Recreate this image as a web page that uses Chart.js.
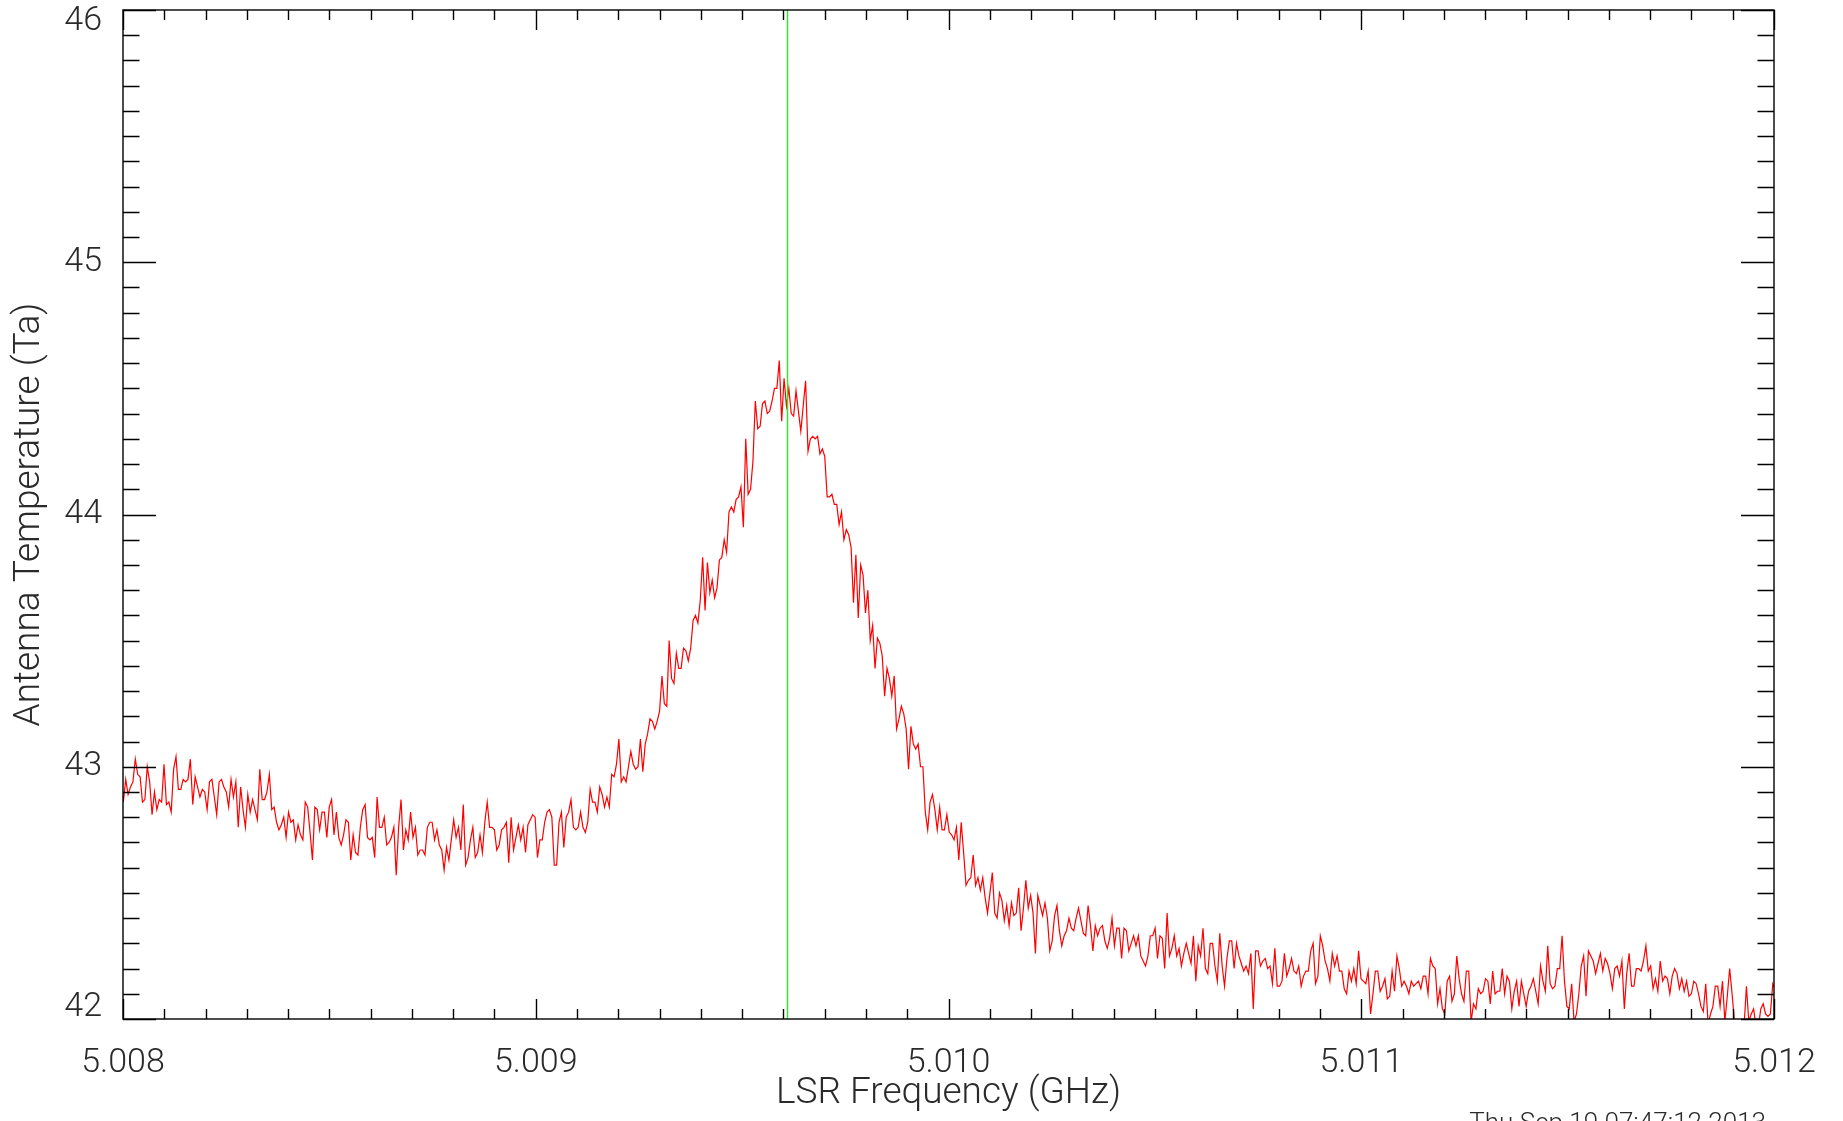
<!DOCTYPE html>
<html lang="en">
<head>
  <meta charset="UTF-8">
  <title>Antenna Temperature vs LSR Frequency</title>
  <script src="https://cdn.jsdelivr.net/npm/chart.js"></script>
  <style>
    html, body { margin: 0; padding: 0; background: #fff; }
    #wrap { width: 1843px; height: 1121px; position: relative; }
  </style>
</head>
<body>
  <div id="wrap"><canvas id="spec"></canvas></div>

  <script>
    // Spectrum channels: evenly spaced in frequency (GHz)
    var freqStart = 5.007995;
    var freqStep = 0.0000058;

    // Antenna temperature per channel (left baseline)
    var tempBaseline = [
      42.96,42.86,42.95,42.89,42.92,42.94,43.03,42.97,42.96,42.86,
      42.87,43.00,42.94,42.81,42.90,42.83,42.87,42.86,43.01,42.85,
      42.86,42.82,42.99,43.04,42.91,42.91,42.95,42.94,42.95,43.03,
      42.85,42.96,42.92,42.88,42.91,42.90,42.83,42.94,42.95,42.88,
      42.81,42.94,42.95,42.92,42.90,42.84,42.95,42.88,42.94,42.76,
      42.92,42.83,42.76,42.89,42.82,42.87,42.83,42.79,42.99,42.87,
      42.87,42.90,42.97,42.83,42.84,42.78,42.75,42.77,42.80,42.72,
      42.82,42.78,42.79,42.71,42.77,42.73,42.71,42.86,42.84,42.74,
      42.63,42.84,42.83,42.75,42.82,42.82,42.72,42.84,42.87,42.73,
      42.82,42.72,42.69,42.73,42.79,42.78,42.63,42.73,42.66,42.65,
      42.76,42.83,42.85,42.72,42.71,42.72,42.64,42.88,42.76,42.76,
      42.80,42.69,42.70,42.72,42.76,42.57,42.76,42.87,42.67,42.75,
      42.71,42.82,42.72,42.76,42.65,42.67,42.67,42.65,42.76,42.78,
      42.78,42.71,42.75,42.69,42.67,42.59,42.68,42.63,42.71,42.79,
      42.72,42.76,42.67,42.85,42.61,42.64,42.71,42.76,42.64,42.66,
      42.73,42.66,42.78,42.86,42.76,42.76,42.75,42.67,42.69,42.75,
      42.76,42.78,42.62,42.80,42.67,42.72,42.77,42.71,42.76,42.66,
      42.77,42.79,42.81,42.80,42.64,42.71,42.71,42.78,42.82,42.83,
      42.80,42.61,42.61,42.78,42.82,42.68,42.80,42.82,42.87,42.76,
      42.75,42.76,42.82,42.76,42.74,42.78,42.91,42.86,42.86,42.82,
      42.92,42.89,42.84,42.88,42.84,42.97,42.96,43.01,43.11,42.94,
      42.96,42.94,43.00,43.06,43.01,42.99
    ];

    // The line itself
    var tempLine = [
      43.00,43.11,42.98,43.09,43.13,43.19,43.18,43.15,43.18,43.22,
      43.36,43.25,43.24,43.50,43.35,43.33,43.45,43.39,43.39,43.47,
      43.46,43.42,43.47,43.58,43.60,43.57,43.66,43.83,43.62,43.81,
      43.69,43.74,43.67,43.71,43.82,43.83,43.90,43.85,44.01,44.03,
      44.01,44.06,44.07,44.11,43.95,44.30,44.08,44.10,44.21,44.45,
      44.34,44.35,44.44,44.45,44.40,44.41,44.45,44.50,44.50,44.61,
      44.37,44.54,44.43,44.50,44.40,44.39,44.49,44.41,44.33,44.43,
      44.53,44.25,44.30,44.31,44.30,44.31,44.24,44.26,44.23,44.07,
      44.07,44.08,44.04,44.04,43.96,44.01,43.90,43.94,43.92,43.87,
      43.65,43.84,43.59,43.80,43.76,43.61,43.70,43.50,43.56,43.39,
      43.51,43.49,43.44,43.28,43.39,43.35,43.28,43.36,43.15,43.19,
      43.24,43.21,43.15,42.99,43.16,43.09,43.07,43.09,43.00,43.00,
      42.82,42.75,42.86,42.89,42.83,42.75,42.84,42.75,42.75
    ];

    // Upper-frequency wing
    var tempWing = [
      42.81,42.74,42.73,42.71,42.76,42.63,42.78,42.66,42.53,42.55,
      42.56,42.65,42.53,42.56,42.51,42.56,42.48,42.42,42.50,42.58,
      42.42,42.40,42.50,42.47,42.39,42.45,42.37,42.46,42.41,42.42,
      42.52,42.35,42.44,42.55,42.44,42.49,42.42,42.26,42.49,42.45,
      42.41,42.46,42.40,42.27,42.31,42.41,42.45,42.35,42.29,42.33,
      42.35,42.40,42.36,42.35,42.40,42.44,42.39,42.34,42.33,42.45,
      42.37,42.27,42.37,42.33,42.36,42.37,42.31,42.28,42.32,42.40,
      42.29,42.36,42.36,42.24,42.36,42.35,42.27,42.30,42.33,42.29,
      42.33,42.25,42.23,42.21,42.25,42.33,42.33,42.36,42.24,42.33,
      42.32,42.20,42.42,42.25,42.28,42.33,42.25,42.28,42.21,42.26,
      42.30,42.26,42.22,42.33,42.15,42.29,42.25,42.36,42.20,42.18,
      42.30,42.30,42.21,42.15,42.34,42.21,42.13,42.24,42.31,42.31,
      42.20,42.30,42.25,42.22,42.19,42.21,42.18,42.26,42.04,42.27,
      42.27,42.21,42.23,42.24,42.20,42.21,42.14,42.28,42.13,42.13,
      42.15,42.26,42.17,42.20,42.24,42.19,42.18,42.21,42.13,42.17,
      42.19,42.19,42.27,42.30,42.14,42.17,42.33,42.29,42.23,42.20,
      42.15,42.26,42.21,42.25,42.19,42.19,42.12,42.10,42.19,42.15,
      42.20,42.14,42.27,42.16,42.15,42.14,42.19,42.02,42.10,42.19,
      42.19
    ];

    // Tail out to 5.012 GHz
    var tempTail = [
      42.11,42.13,42.16,42.08,42.09,42.19,42.11,42.25,42.20,42.13,
      42.15,42.13,42.10,42.15,42.13,42.14,42.15,42.12,42.17,42.17,
      42.10,42.24,42.21,42.20,42.06,42.12,42.04,42.02,42.15,42.17,
      42.07,42.10,42.25,42.16,42.10,42.07,42.19,42.19,41.99,42.06,
      42.04,42.12,42.10,42.11,42.16,42.15,42.06,42.19,42.10,42.11,
      42.11,42.20,42.10,42.17,42.15,42.04,42.11,42.15,42.05,42.15,
      42.10,42.05,42.11,42.13,42.16,42.11,42.06,42.21,42.15,42.11,
      42.29,42.14,42.12,42.13,42.20,42.20,42.33,42.15,42.05,42.04,
      42.14,41.99,42.02,42.10,42.21,42.25,42.09,42.27,42.25,42.23,
      42.18,42.22,42.26,42.19,42.24,42.22,42.18,42.12,42.20,42.21,
      42.17,42.23,42.04,42.18,42.26,42.13,42.13,42.20,42.20,42.19,
      42.23,42.29,42.19,42.21,42.12,42.16,42.11,42.23,42.15,42.17,
      42.16,42.10,42.17,42.20,42.18,42.12,42.16,42.11,42.15,42.09,
      42.10,42.15,42.14,42.10,42.05,42.03,42.14,41.98,42.02,42.05,
      42.13,42.13,42.05,42.15,41.99,42.09,42.20,42.10,41.99,41.97,
      41.98,41.99,41.97,42.13,41.99,42.02,42.04,41.97,41.97,42.04,
      42.06,42.02,42.01,42.02,42.14,42.12,42.10
    ];

    // Axis ticks and the marked line frequency
    var xMajorTicks = [5.008, 5.009, 5.010, 5.011, 5.012];
    var yMajorTicks = [42, 43, 44, 45, 46];
    var minorDiv = 10;
    var markerFreq = 5.00961;
    var stampText = 'Thu Sep 19 07:47:12 2013';

    var fontFamily = "Roboto, 'Open Sans', 'DejaVu Sans', sans-serif";
    var textColor = '#2a2a2a';

    var temps = tempBaseline.concat(tempLine, tempWing, tempTail);
    var spectrum = temps.map(function(t, i) {
      return { x: freqStart + i * freqStep, y: t };
    });
    var yLo = yMajorTicks[0], yHi = yMajorTicks[yMajorTicks.length - 1];
    var markerLine = [{ x: markerFreq, y: yLo }, { x: markerFreq, y: yHi }];

    // IDL style box: inward major/minor ticks on all four sides, plus the date stamp
    var boxTicks = {
      id: 'boxTicks',
      afterDraw: function(chart) {
        var ctx = chart.ctx, a = chart.chartArea;
        var xs = chart.scales.x, ys = chart.scales.y;
        ctx.save();
        ctx.strokeStyle = '#000';
        ctx.lineWidth = 1.4;
        ctx.strokeRect(a.left, a.top, a.right - a.left, a.bottom - a.top);
        ctx.beginPath();
        var j, k, v, p, len;
        for (j = 0; j < xMajorTicks.length; j++) {
          for (k = 0; k < minorDiv; k++) {
            if (j === xMajorTicks.length - 1 && k > 0) break;
            v = k === 0 ? xMajorTicks[j] : xMajorTicks[j] + k * (xMajorTicks[j + 1] - xMajorTicks[j]) / minorDiv;
            p = Math.round(xs.getPixelForValue(v)) + 0.5;
            len = k === 0 ? 20 : 10;
            ctx.moveTo(p, a.bottom); ctx.lineTo(p, a.bottom - len);
            ctx.moveTo(p, a.top); ctx.lineTo(p, a.top + len);
          }
        }
        for (j = 0; j < yMajorTicks.length; j++) {
          for (k = 0; k < minorDiv; k++) {
            if (j === yMajorTicks.length - 1 && k > 0) break;
            v = k === 0 ? yMajorTicks[j] : yMajorTicks[j] + k * (yMajorTicks[j + 1] - yMajorTicks[j]) / minorDiv;
            p = Math.round(ys.getPixelForValue(v)) + 0.5;
            len = k === 0 ? 33 : 16.5;
            ctx.moveTo(a.left, p); ctx.lineTo(a.left + len, p);
            ctx.moveTo(a.right, p); ctx.lineTo(a.right - len, p);
          }
        }
        ctx.stroke();

        ctx.fillStyle = textColor;
        ctx.font = '300 26px ' + fontFamily;
        ctx.textAlign = 'right';
        ctx.textBaseline = 'alphabetic';
        ctx.fillText(stampText, 1766, 1131);
        ctx.restore();
      }
    };

    new Chart(document.getElementById('spec'), {
      type: 'line',
      data: {
        datasets: [
          {
            label: 'line centre',
            data: markerLine,
            borderColor: '#22ee22',
            borderWidth: 1.4,
            pointRadius: 0,
            clip: 0
          },
          {
            label: 'spectrum',
            data: spectrum,
            borderColor: '#ff0000',
            borderWidth: 1.2,
            pointRadius: 0,
            tension: 0,
            clip: 0
          }
        ]
      },
      options: {
        responsive: true,
        maintainAspectRatio: false,
        animation: false,
        parsing: false,
        normalized: true,
        layout: { padding: { left: 0, top: 10, right: 69, bottom: 0 } },
        plugins: {
          legend: { display: false },
          tooltip: { enabled: false }
        },
        scales: {
          x: {
            type: 'linear',
            min: xMajorTicks[0],
            max: xMajorTicks[xMajorTicks.length - 1],
            afterBuildTicks: function(s) {
              s.ticks = xMajorTicks.map(function(v) { return { value: v }; });
            },
            afterFit: function(s) {
              s.height = 102;
              s.paddingLeft = 0;
              s.paddingRight = 0;
            },
            grid: { display: false },
            border: { display: false },
            ticks: {
              autoSkip: false,
              maxRotation: 0,
              padding: 16,
              color: textColor,
              font: { family: fontFamily, size: 34, weight: 300 },
              callback: function(v) { return Number(v).toFixed(3); }
            },
            title: {
              display: true,
              text: 'LSR Frequency (GHz)',
              color: textColor,
              font: { family: fontFamily, size: 37, weight: 300 },
              padding: { top: 0, bottom: 5 }
            }
          },
          y: {
            type: 'linear',
            min: yLo,
            max: yHi,
            afterBuildTicks: function(s) {
              s.ticks = yMajorTicks.map(function(v) { return { value: v }; });
            },
            afterFit: function(s) {
              s.width = 123;
              s.paddingTop = 0;
              s.paddingBottom = 0;
            },
            grid: { display: false },
            border: { display: false },
            ticks: {
              autoSkip: false,
              padding: 13,
              color: textColor,
              font: function(c) {
                var v = c.tick ? c.tick.value : null;
                var ends = (v === yLo || v === yHi);
                return { family: fontFamily, size: 34, weight: 300, lineHeight: ends ? 0.68 : 1.2 };
              },
              callback: function(v) {
                // end labels are pulled inside the axis range
                if (v === yHi) return ['', String(v)];
                if (v === yLo) return [String(v), ''];
                return String(v);
              }
            },
            title: {
              display: true,
              text: 'Antenna Temperature (Ta)',
              color: textColor,
              font: { family: fontFamily, size: 37, weight: 300 },
              padding: { top: 8, bottom: 0 }
            }
          }
        }
      },
      plugins: [boxTicks]
    });
  </script>
</body>
</html>
